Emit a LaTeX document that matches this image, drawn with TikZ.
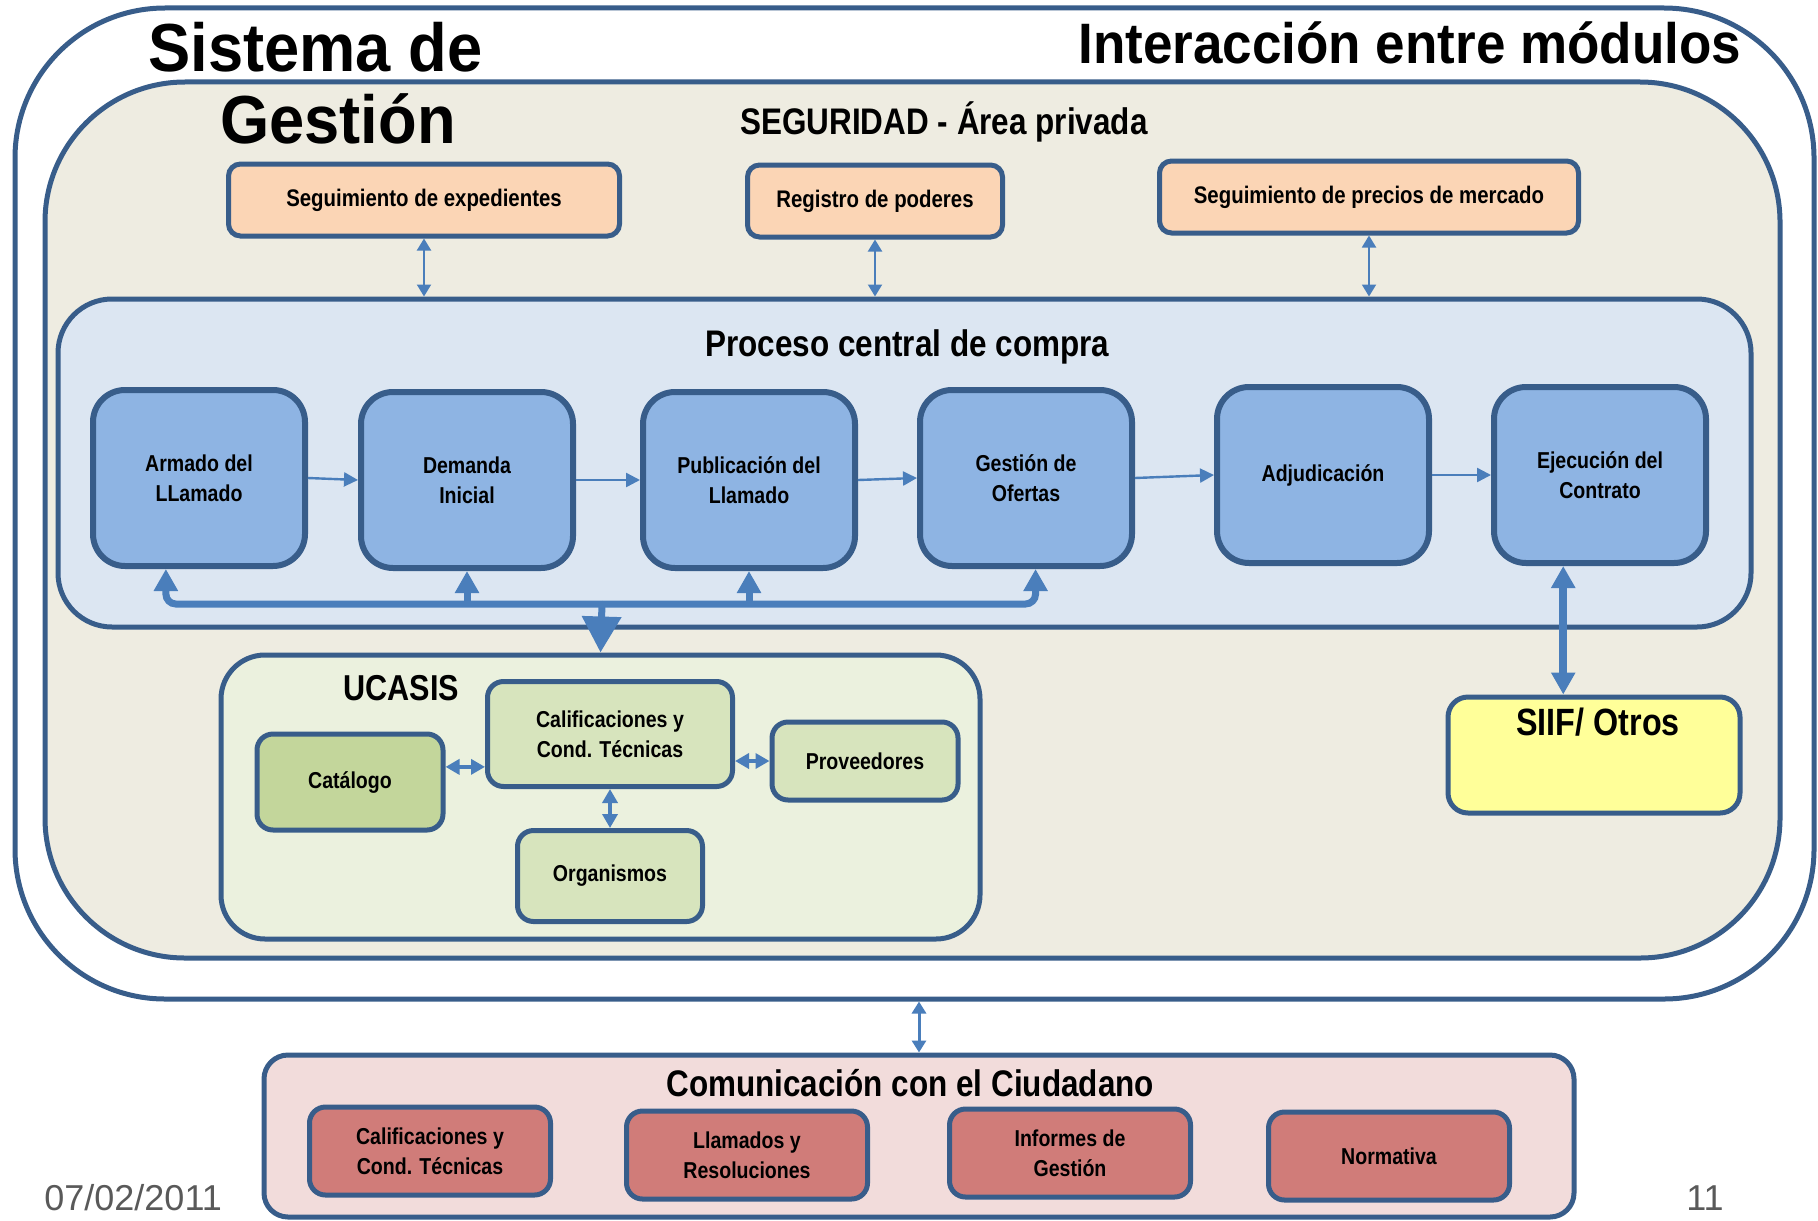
\documentclass[tikz,border=0pt]{standalone}
\usepackage{fontspec}
\setmainfont{Liberation Sans}
\newfontfamily\titlefont[FakeStretch=0.93]{Liberation Sans}
\newfontfamily\narrowfont[FakeStretch=0.85]{Liberation Sans}
\usetikzlibrary{arrows.meta}
\definecolor{edgeblue}{HTML}{385D8A}
\definecolor{arrowblue}{HTML}{4A7EBB}
\definecolor{beige}{HTML}{EEECE1}
\definecolor{paleblue}{HTML}{DCE6F2}
\definecolor{stepblue}{HTML}{8EB4E3}
\definecolor{peach}{HTML}{FBD5B5}
\definecolor{palegreen}{HTML}{EBF1DE}
\definecolor{leafgreen}{HTML}{D7E4BD}
\definecolor{olivegreen}{HTML}{C3D69B}
\definecolor{paleyellow}{HTML}{FFFF99}
\definecolor{palepink}{HTML}{F2DCDB}
\definecolor{rosered}{HTML}{D07C79}
\definecolor{footgray}{HTML}{595959}

\begin{document}
\begin{tikzpicture}[x=0.5pt, y=-0.5pt]
	\tikzstyle{boxline}=[draw=edgeblue, line width=2.5pt]
	\tikzstyle{heading}=[anchor=base west, inner sep=0pt]
	\tikzstyle{headfont}=[font=\narrowfont\bfseries\fontsize{18.5}{22}\selectfont]
	\tikzstyle{module}=[boxline, rounded corners=6pt, fill=peach, minimum height=36pt, font=\narrowfont\bfseries\fontsize{12}{15}\selectfont]
	\tikzstyle{stage}=[boxline, line width=3pt, rounded corners=16pt, fill=stepblue, minimum width=106pt, minimum height=88pt, align=center, font=\narrowfont\bfseries\fontsize{11.5}{15}\selectfont]
	\tikzstyle{ucbox}=[boxline, rounded corners=8pt, fill=leafgreen, align=center, font=\narrowfont\bfseries\fontsize{11.5}{15}\selectfont]
	\tikzstyle{citbox}=[boxline, rounded corners=8pt, fill=rosered, minimum width=120.5pt, minimum height=44pt, align=center, font=\narrowfont\bfseries\fontsize{11.5}{15}\selectfont]
	\tikzstyle{thin link}=[arrowblue, line width=1pt, >={Triangle[width=7pt,length=6pt]}, <->]
	\tikzstyle{flow}=[arrowblue, line width=1.2pt, -{Triangle[width=7pt,length=7pt]}]
	\tikzstyle{bus}=[arrowblue, line width=3.5pt, rounded corners=5pt, -{Triangle[width=11.5pt,length=11pt]}]
	\tikzstyle{uc link}=[arrowblue, line width=1.75pt, >={Triangle[width=7.5pt,length=7pt]}, <->]
	\tikzstyle{siif link}=[arrowblue, line width=4pt, >={Triangle[width=11.5pt,length=11pt]}, <->]
	\useasboundingbox (0,0) rectangle (1818,1220);
	% Frames
	\node[boxline, rounded corners=75pt, fill=white, minimum width=899.5pt, minimum height=495.5pt] (sistema) at (914.5,503.5) {};
	\node[boxline, rounded corners=70pt, fill=beige, minimum width=867.5pt, minimum height=438pt] (seguridad) at (912.5,520) {};
	\node[heading, font=\titlefont\bfseries\fontsize{34}{40}\selectfont] (titulo_1) at (148,72) {Sistema de};
	\node[heading, font=\titlefont\bfseries\fontsize{34}{40}\selectfont] (titulo_2) at (220,143) {Gestión};
	\node[heading, font=\titlefont\bfseries\fontsize{28.5}{34}\selectfont] (titulo_3) at (1078,64) {Interacción entre módulos};
	\node[heading, headfont] (segtitle) at (740,134) {SEGURIDAD - Área privada};
	% Private area modules
	\foreach \x/\y/\w/\t [count=\i] in {424/200/195.5/Seguimiento de expedientes, 875/201/127.5/Registro de poderes, 1369/197/209.5/Seguimiento de precios de mercado}
		\node[module, minimum width=\w pt] (org_\i) at (\x,\y) {\t};
	% Central process
	\node[boxline, rounded corners=27pt, fill=paleblue, minimum width=846.5pt, minimum height=164pt] (proceso) at (904.5,463) {};
	\node[heading, headfont] (proctitle) at (705,356) {Proceso central de compra};
	\foreach \x/\y/\t [count=\i] in {199/478/{Armado del\\LLamado}, 467/480/{Demanda\\Inicial}, 749/480/{Publicación del\\Llamado}, 1026/478/{Gestión de\\Ofertas}, 1323/475/Adjudicación, 1600/475/{Ejecución del\\Contrato}}
		\node[stage] (stage_\i) at (\x,\y) {\t};
	\foreach \i/\j in {1/2,2/3,3/4,4/5,5/6}
		\draw[flow] (stage_\i.east) -- (stage_\j.west);
	\foreach \i in {1,2,3}
		\draw[thin link] (org_\i.south) -- (org_\i.south |- proceso.north);
	% UCASIS
	\node[boxline, rounded corners=22pt, fill=palegreen, minimum width=379.5pt, minimum height=142pt] (ucasis) at (600.5,797) {};
	\node[heading, font=\narrowfont\bfseries\fontsize{18}{22}\selectfont] (uctitle) at (343,700) {UCASIS};
	\node[ucbox, minimum width=122.5pt, minimum height=52.5pt] (calif) at (610,734) {Calificaciones y\\Cond. Técnicas};
	\node[ucbox, fill=olivegreen, minimum width=93pt, minimum height=48pt] (catalogo) at (350,782) {Catálogo};
	\node[ucbox, minimum width=93pt, minimum height=39pt] (proveedores) at (865,761) {Proveedores};
	\node[ucbox, minimum width=92.5pt, minimum height=45.5pt] (organismos) at (610,876) {Organismos};
	\draw[uc link] (catalogo.9) -- (catalogo.9 -| calif.west);
	\draw[uc link] (proveedores.west -| calif.east) -- (proveedores.west);
	\draw[uc link] (calif.south) -- (organismos.north);
	% Bus between process and UCASIS
	\coordinate (bus) at (602,604);
	\draw[bus] (bus) -| (stage_1.250);
	\draw[bus] (bus) -| (stage_4.276);
	\draw[bus] (stage_2.south |- bus) -- (stage_2.south);
	\draw[bus] (stage_3.south |- bus) -- (stage_3.south);
	\draw[bus, -{Triangle[width=19pt,length=18pt]}] (bus) -- (ucasis.north);
	% SIIF
	\node[boxline, rounded corners=10pt, fill=paleyellow, minimum width=146pt, minimum height=58pt] (siif) at (1594,755) {};
	\node[heading, headfont, font=\narrowfont\bfseries\fontsize{19}{22}\selectfont] (siiftitle) at (1516,735) {SIIF/ Otros};
	\draw[siif link] (stage_6.248) -- (stage_6.248 |- siif.north);
	% Citizen
	\node[boxline, rounded corners=12pt, fill=palepink, minimum width=655pt, minimum height=81pt] (comun) at (919,1136) {};
	\node[heading, headfont] (comtitle) at (666,1096) {Comunicación con el Ciudadano};
	\foreach \x/\y/\t [count=\i] in {430/1151/{Calificaciones y\\Cond. Técnicas}, 747/1155/{Llamados y\\Resoluciones}, 1070/1153/{Informes de\\Gestión}, 1389/1156/Normativa}
		\node[citbox] (cit_\i) at (\x,\y) {\t};
	\draw[thin link, line width=1.5pt] (comun.north) -- (comun.north |- sistema.south);
	% Footer
	\node[heading, text=footgray, font=\fontsize{18}{20}\selectfont] (fecha) at (44,1210) {07/02/2011};
	\node[heading, anchor=base east, text=footgray, font=\fontsize{18}{20}\selectfont] (pagina) at (1724,1210) {11};
\end{tikzpicture}
\end{document}
